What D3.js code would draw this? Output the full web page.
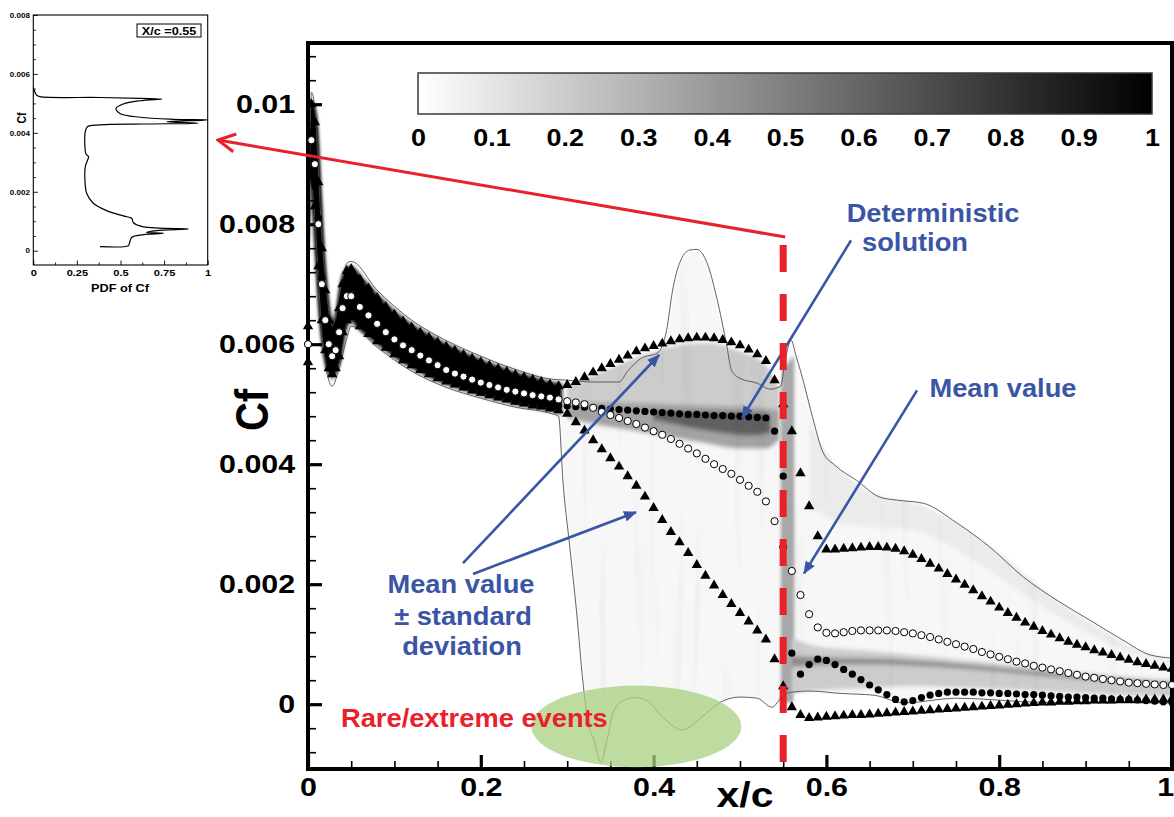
<!DOCTYPE html>
<html>
<head>
<meta charset="utf-8">
<script src="https://cdn.jsdelivr.net/npm/d3@7"></script>
<style>
  html, body { margin: 0; padding: 0; background: #ffffff; }
  svg { display: block; }
</style>
</head>
<body>
<svg id="chart" width="1174" height="817"></svg>
<script>
// ------------------------------------------------------------------
// Skin-friction coefficient Cf along the chord x/c
// ------------------------------------------------------------------
const xStations = [
  0, 0.004, 0.008, 0.012, 0.016, 0.020, 0.024, 0.028, 0.032, 0.036, 0.040, 0.045,
  0.05, 0.06, 0.07, 0.08, 0.09, 0.10, 0.11, 0.12, 0.13, 0.14,
  0.15, 0.16, 0.17, 0.18, 0.19, 0.20, 0.21, 0.22, 0.23, 0.24,
  0.25, 0.26, 0.27, 0.28, 0.29, 0.30, 0.31,
  0.32, 0.33, 0.34, 0.35, 0.36, 0.37, 0.38, 0.39, 0.40,
  0.41, 0.42, 0.43, 0.44, 0.45, 0.46, 0.47, 0.48, 0.49, 0.50,
  0.51, 0.52, 0.53, 0.54, 0.55,
  0.56, 0.57, 0.58, 0.59, 0.60,
  0.61, 0.62, 0.63, 0.64, 0.65, 0.66, 0.67, 0.68, 0.69, 0.70,
  0.71, 0.72, 0.73, 0.74, 0.75, 0.76, 0.77, 0.78, 0.79, 0.80,
  0.81, 0.82, 0.83, 0.84, 0.85, 0.86, 0.87, 0.88, 0.89, 0.90,
  0.91, 0.92, 0.93, 0.94, 0.95, 0.96, 0.97, 0.98, 0.99, 1.00
];

// mean value of Cf (open circles)
const cfMean = [
  0.0060, 0.0094, 0.0090, 0.0080, 0.0070, 0.0064, 0.0060, 0.0058, 0.0059, 0.0062, 0.0066, 0.0068,
  0.00680, 0.00662, 0.00648, 0.00634, 0.00620, 0.00608, 0.00598, 0.00590, 0.00581, 0.00573,
  0.00565, 0.00557, 0.00551, 0.00546, 0.00541, 0.00536, 0.00532, 0.00528, 0.00524, 0.00521,
  0.00518, 0.00515, 0.00513, 0.00511, 0.00508, 0.00505, 0.00503,
  0.00500, 0.00494, 0.00487, 0.00482, 0.00477, 0.00472, 0.00467, 0.00461, 0.00455,
  0.00449, 0.00442, 0.00434, 0.00426, 0.00418, 0.00409, 0.00400, 0.00392, 0.00384, 0.00374,
  0.00364, 0.00354, 0.00338, 0.00305, 0.00262,
  0.00222, 0.00182, 0.00150, 0.00128, 0.00119,
  0.00118, 0.00120, 0.00122, 0.00123, 0.00123, 0.00123, 0.00123, 0.00122, 0.00120, 0.00118,
  0.00115, 0.00112, 0.00108, 0.00104, 0.00100, 0.00096, 0.00092, 0.00087, 0.00083, 0.00079,
  0.00075, 0.00071, 0.00068, 0.00064, 0.00061, 0.00058, 0.00055, 0.00052, 0.00049, 0.00046,
  0.00044, 0.00042, 0.00040, 0.00038, 0.00036, 0.00035, 0.00034, 0.00033, 0.00032, 0.00032
];

// mean + standard deviation (upper triangles)
const cfUpper = [
  0.0063, 0.0100, 0.0097, 0.0087, 0.0076, 0.0069, 0.0064, 0.0061, 0.0062, 0.0066, 0.0070, 0.00722,
  0.00725, 0.00708, 0.00693, 0.00677, 0.00662, 0.00649, 0.00638, 0.00628, 0.00619, 0.00611,
  0.00603, 0.00596, 0.00589, 0.00582, 0.00576, 0.00570, 0.00564, 0.00559, 0.00554, 0.00549,
  0.00545, 0.00541, 0.00537, 0.00533, 0.00530, 0.00532, 0.00537,
  0.00545, 0.00553, 0.00560, 0.00567, 0.00574, 0.00581, 0.00588, 0.00593, 0.00597,
  0.00601, 0.00605, 0.00608, 0.00610, 0.00611, 0.00611, 0.00610, 0.00607, 0.00603, 0.00598,
  0.00591, 0.00583, 0.00572, 0.00540, 0.00500,
  0.00455, 0.00385, 0.00330, 0.00280, 0.00258,
  0.00258, 0.00259, 0.00260, 0.00261, 0.00262, 0.00262, 0.00261, 0.00259, 0.00255, 0.00249,
  0.00242, 0.00234, 0.00226, 0.00217, 0.00208, 0.00199, 0.00190, 0.00180, 0.00171, 0.00161,
  0.00152, 0.00144, 0.00136, 0.00129, 0.00122, 0.00116, 0.00110, 0.00104, 0.00099, 0.00095,
  0.00090, 0.00086, 0.00082, 0.00078, 0.00074, 0.00070, 0.00067, 0.00064, 0.00061, 0.00059
];

// mean - standard deviation (lower triangles)
const cfLower = [
  0.0057, 0.0088, 0.0083, 0.0073, 0.0064, 0.0059, 0.0056, 0.0055, 0.0056, 0.0058, 0.0062, 0.0064,
  0.00645, 0.00630, 0.00617, 0.00605, 0.00594, 0.00583, 0.00573, 0.00565, 0.00557, 0.00550,
  0.00543, 0.00538, 0.00533, 0.00528, 0.00523, 0.00519, 0.00515, 0.00511, 0.00508, 0.00504,
  0.00501, 0.00498, 0.00496, 0.00493, 0.00490, 0.00484, 0.00470,
  0.00456, 0.00440, 0.00425, 0.00410, 0.00396, 0.00380, 0.00364, 0.00346, 0.00327,
  0.00307, 0.00287, 0.00270, 0.00252, 0.00232, 0.00214, 0.00198, 0.00182, 0.00167, 0.00152,
  0.00138, 0.00123, 0.00108, 0.00075, 0.00030,
  -0.00005, -0.00018, -0.00023, -0.00022, -0.00021,
  -0.00020, -0.00019, -0.00018, -0.00018, -0.00017, -0.00016, -0.00015, -0.00014, -0.00013, -0.00012,
  -0.00011, -0.00010, -0.00009, -0.00008, -0.00007, -0.00006, -0.00005, -0.00004, -0.00003, -0.00002,
  -0.00001, 0.00000, 0.00001, 0.00002, 0.00003, 0.00003, 0.00004, 0.00004, 0.00005, 0.00005,
  0.00006, 0.00006, 0.00006, 0.00007, 0.00007, 0.00007, 0.00008, 0.00008, 0.00008, 0.00009
];

// deterministic solution (filled circles)
const cfDeterministic = [
  0.0060, 0.0095, 0.0091, 0.0081, 0.0071, 0.0064, 0.0060, 0.0058, 0.0059, 0.0062, 0.0066, 0.0068,
  0.00672, 0.00652, 0.00637, 0.00622, 0.00609, 0.00597, 0.00587, 0.00578, 0.00569, 0.00562,
  0.00555, 0.00549, 0.00543, 0.00538, 0.00533, 0.00528, 0.00524, 0.00520, 0.00516, 0.00513,
  0.00509, 0.00506, 0.00503, 0.00500, 0.00498, 0.00497, 0.00496,
  0.00495, 0.00494, 0.00493, 0.00492, 0.00491, 0.00490, 0.00489, 0.00488, 0.00487,
  0.00486, 0.00485, 0.00484, 0.00483, 0.00483, 0.00482, 0.00481, 0.00481, 0.00480, 0.00480,
  0.00479, 0.00478, 0.00477, 0.00455, 0.00380,
  0.00085, 0.00050, 0.00066, 0.00075, 0.00073,
  0.00066, 0.00058, 0.00050, 0.00041, 0.00032, 0.00024, 0.00016, 0.00008, 0.00004, 0.00006,
  0.00011, 0.00015, 0.00018, 0.00020, 0.00020, 0.00020, 0.00020, 0.00019, 0.00019, 0.00018,
  0.00018, 0.00017, 0.00016, 0.00016, 0.00015, 0.00014, 0.00013, 0.00012, 0.00012, 0.00011,
  0.00010, 0.00010, 0.00009, 0.00008, 0.00008, 0.00007, 0.00006, 0.00005, 0.00004, 0.00003
];

// extreme values over all samples (thin envelope lines)
const envMaxX = [0, 0.004, 0.008, 0.012, 0.016, 0.020, 0.028, 0.036, 0.045, 0.05, 0.08, 0.12, 0.16, 0.20,
  0.24, 0.28, 0.30, 0.33, 0.36, 0.37, 0.385, 0.405, 0.415, 0.422, 0.43, 0.442, 0.45, 0.462, 0.473,
  0.485, 0.49, 0.50, 0.52, 0.535, 0.547, 0.552, 0.559, 0.565, 0.573, 0.584, 0.596, 0.61, 0.635,
  0.662, 0.682, 0.712, 0.751, 0.789, 0.828, 0.867, 0.905, 0.943, 0.975, 1.0];
const envMaxCf = [0.0064, 0.0102, 0.0099, 0.0089, 0.0078, 0.0071, 0.0063, 0.0068, 0.00735, 0.00738,
  0.00690, 0.00640, 0.00606, 0.00580, 0.00558, 0.00542, 0.00540, 0.00537, 0.00537, 0.00555, 0.00576,
  0.00586, 0.00623, 0.00690, 0.00735, 0.00757, 0.00758, 0.00735, 0.00678, 0.00595, 0.00557, 0.00543,
  0.00535, 0.00525, 0.00530, 0.00570, 0.00607, 0.00580, 0.00540, 0.00478, 0.00420, 0.00398, 0.00373,
  0.00345, 0.00340, 0.00335, 0.00302, 0.00262, 0.00212, 0.00173, 0.00140, 0.00107, 0.00082, 0.00077];

const envMinX = [0, 0.004, 0.008, 0.012, 0.016, 0.020, 0.028, 0.036, 0.045, 0.05, 0.08, 0.12, 0.16, 0.20,
  0.24, 0.28, 0.29, 0.295, 0.303, 0.311, 0.318, 0.324, 0.331, 0.339, 0.346, 0.353, 0.364, 0.378,
  0.392, 0.411, 0.433, 0.455, 0.477, 0.50, 0.52, 0.537, 0.55, 0.56, 0.58, 0.616, 0.655, 0.69, 0.75,
  0.85, 1.0];
const envMinCf = [0.0056, 0.0086, 0.0081, 0.0071, 0.0062, 0.0057, 0.0053, 0.0056, 0.0061, 0.0063,
  0.00595, 0.00555, 0.00528, 0.00510, 0.00495, 0.00485, 0.00480, 0.00373, 0.00262, 0.00152, 0.00040,
  -0.00030, -0.00060, -0.00097, -0.00060, -0.00015, 0.00005, 0.00011, 0.00006, -0.00022, -0.00043,
  -0.00022, 0.00003, 0.00012, 0.00010, -0.00005, 0.00015, 0.00020, 0.00022, 0.00018, 0.00015,
  0.00002, 0.00010, 0.00003, 0.00002];

// probability density of Cf, summarised as shaded bands (level = PDF value)
const coreBandStart = 0.004;
const coreBandEnd = 0.29;           // samples collapse onto one narrow band upstream
const coreBandLevel = 1.0;
const baseLevel = 0.03;             // faint density filling the whole sample envelope
const detBandX = [0.30, 0.34, 0.38, 0.42, 0.46, 0.50, 0.53, 0.545];
const detBandLo = [0.00476, 0.00464, 0.00455, 0.00445, 0.00435, 0.00426, 0.00426, 0.00440];
const detBandHi = [0.00503, 0.00503, 0.00502, 0.00500, 0.00498, 0.00496, 0.00493, 0.00490];
const detBandLevel = 0.36;
const detCoreX = [0.40, 0.44, 0.48, 0.51, 0.535];
const detCoreLo = [0.00474, 0.00462, 0.00452, 0.00448, 0.00452];
const detCoreHi = [0.00490, 0.00488, 0.00487, 0.00486, 0.00484];
const detCoreLevel = 0.62;
const upShadeX = [0.30, 0.34, 0.38, 0.42, 0.46, 0.50, 0.53, 0.545];
const upShadeLo = [0.00495, 0.00493, 0.00489, 0.00485, 0.00482, 0.00480, 0.00477, 0.00460];
const upShadeHi = [0.00532, 0.00556, 0.00580, 0.00596, 0.00602, 0.00590, 0.00568, 0.00530];
const upShadeLevel = 0.2;
const shockX = [0.547, 0.563];
const shockLo = [0.0000, 0.0000];
const shockHi = [0.0056, 0.0058];
const shockLevel = 0.34;
const wakeX = [0.56, 0.58, 0.62, 0.66, 0.70, 0.75, 0.80, 0.85, 0.90, 0.95, 1.00];
const wakeLo = [0.00015, 0.00020, 0.00025, 0.00028, 0.00030, 0.00028, 0.00025, 0.00022, 0.00018, 0.00015, 0.00012];
const wakeHi = [0.00110, 0.00100, 0.00092, 0.00088, 0.00082, 0.00075, 0.00068, 0.00060, 0.00052, 0.00045, 0.00040];
const wakeLevel = 0.2;
const wakeCoreLo = [0.00062, 0.00064, 0.00066, 0.00066, 0.00064, 0.00060, 0.00054, 0.00047, 0.00041, 0.00035, 0.00031];
const wakeCoreHi = [0.00080, 0.00079, 0.00077, 0.00076, 0.00073, 0.00068, 0.00061, 0.00054, 0.00047, 0.00041, 0.00036];
const wakeCoreLevel = 0.45;
const edgeX = [0.58, 0.62, 0.66, 0.70, 0.75, 0.80, 0.85, 0.90, 0.95, 1.00];
const edgeLo = [0.00330, 0.00300, 0.00295, 0.00290, 0.00258, 0.00212, 0.00163, 0.00120, 0.00087, 0.00068];
const edgeHi = [0.00470, 0.00385, 0.00350, 0.00338, 0.00305, 0.00255, 0.00195, 0.00142, 0.00100, 0.00077];
const edgeLevel = 0.08;

// axis ticks
const yMajorTicks = [0, 0.002, 0.004, 0.006, 0.008, 0.01];
const xMajorTicks = [0, 0.2, 0.4, 0.6, 0.8, 1];
const colorbarTicks = [0, 0.1, 0.2, 0.3, 0.4, 0.5, 0.6, 0.7, 0.8, 0.9, 1];

// PDF of Cf at the station x/c = 0.55 (inset)
const pdfStation = 0.55;
const insetPdf = [0, 0.019, 0.038, 0.382, 0.612, 0.738, 0.612, 0.516, 0.474, 0.497, 0.612, 0.803,
  1.0, 0.765, 0.946, 0.631, 0.382, 0.31, 0.298, 0.296, 0.302, 0.317, 0.31, 0.298, 0.296, 0.306,
  0.344, 0.421, 0.516, 0.564, 0.574, 0.631, 0.889, 0.707, 0.65, 0.746, 0.612, 0.564, 0.551, 0.545, 0.382];
const insetCf = [0.00554, 0.00528, 0.00523, 0.00520, 0.00517, 0.00515, 0.00509, 0.00498, 0.00483,
  0.00466, 0.00453, 0.00446, 0.00444, 0.00438, 0.00433, 0.00430, 0.00427, 0.00421, 0.00404, 0.00353,
  0.00328, 0.00319, 0.00306, 0.00285, 0.00240, 0.00195, 0.00161, 0.00136, 0.00118, 0.00110, 0.00095,
  0.00081, 0.00074, 0.00068, 0.00062, 0.00059, 0.00053, 0.00045, 0.00025, 0.00017, 0.00014];
const insetYTicks = [0, 0.002, 0.004, 0.006, 0.008];
const insetXTicks = [0, 0.25, 0.5, 0.75, 1];

// ------------------------------------------------------------------
const FONT = '"Liberation Sans", Arial, Helvetica, sans-serif';
const BLUE = "#3a55a5";
const RED = "#e8212a";
const svg = d3.select("#chart");
const defs = svg.append("defs");

const x = d3.scaleLinear().domain([0, 1]).range([308, 1172]);
const y = d3.scaleLinear().domain([-0.00108, 0.01102]).range([769, 43]);
const shade = d3.scaleLinear().domain([0, 1]).range(["#ffffff", "#000000"]);

const zip = (xs, ys) => xs.map((v, i) => [v, ys[i]]).filter(d => d[1] !== undefined);
const meanPts = zip(xStations, cfMean);
const upperPts = zip(xStations, cfUpper);
const lowerPts = zip(xStations, cfLower);
const detPts = zip(xStations, cfDeterministic);

// plot clip
defs.append("clipPath").attr("id", "plotClip")
  .append("rect").attr("x", x(0)).attr("y", y.range()[1])
  .attr("width", x(1) - x(0)).attr("height", y.range()[0] - y.range()[1]);

// streaky, slightly soft rendering of the density field
const f = defs.append("filter").attr("id", "pdfTexture")
  .attr("filterUnits", "userSpaceOnUse")
  .attr("x", 300).attr("y", 40).attr("width", 880).attr("height", 740);
f.append("feGaussianBlur").attr("in", "SourceGraphic").attr("stdDeviation", "1.4 2.2").attr("result", "soft");
f.append("feTurbulence").attr("type", "fractalNoise").attr("baseFrequency", "0.09 0.004")
  .attr("numOctaves", 2).attr("seed", 7).attr("result", "noise");
f.append("feColorMatrix").attr("in", "noise").attr("type", "matrix")
  .attr("values", "0.26 0 0 0 0.89  0.26 0 0 0 0.89  0.26 0 0 0 0.89  0 0 0 0 1")
  .attr("result", "grain");
f.append("feBlend").attr("in", "soft").attr("in2", "grain").attr("mode", "multiply").attr("result", "mix");
f.append("feComposite").attr("in", "mix").attr("in2", "soft").attr("operator", "in");

// ---------------- density field ----------------
const heat = svg.append("g").attr("clip-path", "url(#plotClip)")
  .append("g").attr("filter", "url(#pdfTexture)");

const envPoly = zip(envMaxX, envMaxCf).map(d => [x(d[0]), y(d[1])])
  .concat(zip(envMinX, envMinCf).reverse().map(d => [x(d[0]), y(d[1])]));
heat.append("path").attr("d", d3.line().curve(d3.curveLinearClosed)(envPoly))
  .attr("fill", shade(baseLevel));

function band(xs, lo, hi, level, edge = 0) {
  const rows = xs.map((v, i) => ({ x: v, lo: lo[i], hi: hi[i] }));
  const p = heat.append("path")
    .attr("d", d3.area().curve(d3.curveMonotoneX)
      .x(d => x(d.x)).y0(d => y(d.lo)).y1(d => y(d.hi))(rows))
    .attr("fill", shade(level));
  if (edge) p.attr("stroke", shade(level)).attr("stroke-width", edge).attr("stroke-linejoin", "round");
}
band(edgeX, edgeLo, edgeHi, edgeLevel);
band(upShadeX, upShadeLo, upShadeHi, upShadeLevel);
band(shockX, shockLo, shockHi, shockLevel);
band(wakeX, wakeLo, wakeHi, wakeLevel);
band(wakeX, wakeCoreLo, wakeCoreHi, wakeCoreLevel);
band(detBandX, detBandLo, detBandHi, detBandLevel);
band(detCoreX, detCoreLo, detCoreHi, detCoreLevel);
// upstream: all samples sit inside the mean +/- std band, drawn with the marker half-width as edge
const coreIdx = xStations.map((v, i) => i)
  .filter(i => xStations[i] >= coreBandStart && xStations[i] <= coreBandEnd);
band(coreIdx.map(i => xStations[i]), coreIdx.map(i => cfLower[i]), coreIdx.map(i => cfUpper[i]), coreBandLevel, 9);

// envelope lines
const envLine = d3.line().curve(d3.curveMonotoneX).x(d => x(d[0])).y(d => y(d[1]));
const envG = svg.append("g").attr("clip-path", "url(#plotClip)");
[zip(envMaxX, envMaxCf), zip(envMinX, envMinCf)].forEach(pts => {
  envG.append("path").attr("d", envLine(pts)).attr("fill", "none")
    .attr("stroke", "#505050").attr("stroke-width", 0.9);
});

// ---------------- axes ----------------
const fmtCf = d => d === 0 ? "0" : d3.format(".3~f")(d);
const yMinor = d3.range(-0.0008, 0.01081, 0.0004).filter(v => !yMajorTicks.some(t => Math.abs(t - v) < 1e-7));
const xMinor = d3.range(0, 1.0001, 0.05).filter(v => !xMajorTicks.some(t => Math.abs(t - v) < 1e-7));

function styleAxis(g, size, sx) {
  g.attr("font-family", FONT);
  g.select(".domain").remove();
  g.selectAll(".tick text").attr("font-size", size).attr("font-weight", "bold")
    .attr("fill", "#000").attr("transform", `scale(${sx},1)`);
}

const gyMinor = svg.append("g").attr("transform", `translate(${x(0)},0)`)
  .call(d3.axisLeft(y).tickValues(yMinor).tickSize(-8).tickFormat(""));
gyMinor.select(".domain").remove();
gyMinor.selectAll("line").attr("stroke", "#000").attr("stroke-width", 1.6);

const gy = svg.append("g").attr("transform", `translate(${x(0)},0)`)
  .call(d3.axisLeft(y).tickValues(yMajorTicks).tickSize(-14).tickPadding(11).tickFormat(fmtCf));
styleAxis(gy, 26, 1.17);
gy.selectAll(".tick line").attr("stroke", "#000").attr("stroke-width", 3.2);

const gxMinor = svg.append("g").attr("transform", `translate(0,${y.range()[0]})`)
  .call(d3.axisBottom(x).tickValues(xMinor).tickSize(-8).tickFormat(""));
gxMinor.select(".domain").remove();
gxMinor.selectAll("line").attr("stroke", "#000").attr("stroke-width", 1.6);

const gx = svg.append("g").attr("transform", `translate(0,${y.range()[0]})`)
  .call(d3.axisBottom(x).tickValues(xMajorTicks).tickSize(-14).tickPadding(9).tickFormat(d3.format("~g")));
styleAxis(gx, 26, 1.17);
gx.selectAll(".tick line").attr("stroke", "#000").attr("stroke-width", 3.2);
// the last label sits against the right edge of the page
gx.selectAll(".tick text").filter(d => d === 1).attr("text-anchor", "end").attr("x", 1.5);

// frame
const frame = svg.append("g").attr("stroke", "#000").attr("stroke-width", 4).attr("stroke-linecap", "square");
frame.append("line").attr("x1", x(0)).attr("x2", x(1)).attr("y1", y.range()[1]).attr("y2", y.range()[1]);
frame.append("line").attr("x1", x(1)).attr("x2", x(1)).attr("y1", y.range()[1]).attr("y2", y.range()[0]);
frame.append("line").attr("x1", x(0)).attr("x2", x(0)).attr("y1", y.range()[1]).attr("y2", y.range()[0]);
frame.append("line").attr("x1", x(0)).attr("x2", x(1)).attr("y1", y.range()[0]).attr("y2", y.range()[0]);

// axis titles
function label(g, str, px, py, o = {}) {
  return g.append("text")
    .attr("transform", o.rotate
      ? `translate(${px},${py}) rotate(-90) scale(1,${o.sx || 1})`
      : `translate(${px},${py}) scale(${o.sx || 1},1)`)
    .attr("font-family", FONT).attr("font-weight", o.weight || "bold")
    .attr("font-size", o.size || 20).attr("fill", o.fill || "#000")
    .attr("text-anchor", o.anchor || "middle")
    .text(str);
}
label(svg, "x/c", 745, 807, { size: 35, sx: 1.17 });
label(svg, "Cf", 268, 410, { size: 40, sx: 1.17, rotate: true });

// ---------------- series markers ----------------
const marks = svg.append("g");
const tri = d3.symbol().type(d3.symbolTriangle).size(46);
[upperPts, lowerPts].forEach(pts => {
  marks.append("g").selectAll("path").data(pts).join("path")
    .attr("d", tri).attr("transform", d => `translate(${x(d[0])},${y(d[1])})`)
    .attr("fill", "#000");
});
marks.append("g").selectAll("circle").data(detPts).join("circle")
  .attr("cx", d => x(d[0])).attr("cy", d => y(d[1])).attr("r", 3.6).attr("fill", "#000");
marks.append("g").selectAll("circle").data(meanPts).join("circle")
  .attr("cx", d => x(d[0])).attr("cy", d => y(d[1])).attr("r", 3.6)
  .attr("fill", "#ffffff").attr("stroke", "#000").attr("stroke-width", 1);

// ---------------- annotations ----------------
const ann = svg.append("g");
// rare / extreme events
ann.append("ellipse").attr("cx", x(0.38)).attr("cy", y(-0.00037))
  .attr("rx", x(0.1215) - x(0)).attr("ry", y(0) - y(0.00068))
  .attr("fill", "#a8d080").attr("fill-opacity", 0.75);
label(ann, "Rare/extreme events", 341, 727, { size: 25.5, sx: 1.07, fill: RED, anchor: "start" });

// blue pointers
defs.append("marker").attr("id", "blueHead").attr("viewBox", "0 -5 12 10")
  .attr("refX", 11).attr("refY", 0).attr("markerWidth", 13).attr("markerHeight", 11)
  .attr("markerUnits", "userSpaceOnUse").attr("orient", "auto")
  .append("path").attr("d", "M0,-5L12,0L0,5Z").attr("fill", BLUE);
const pointers = [
  [[0.6285, 0.00773], [0.5023, 0.00477]],
  [[0.7049, 0.00523], [0.5741, 0.00218]],
  [[0.1794, 0.00235], [0.4063, 0.00582]],
  [[0.1910, 0.00217], [0.3796, 0.00320]]
];
pointers.forEach(([a, b]) => {
  ann.append("line").attr("x1", x(a[0])).attr("y1", y(a[1])).attr("x2", x(b[0])).attr("y2", y(b[1]))
    .attr("stroke", BLUE).attr("stroke-width", 2.6).attr("marker-end", "url(#blueHead)");
});
label(ann, "Deterministic", 933, 222, { size: 25.5, sx: 1.07, fill: BLUE });
label(ann, "solution", 915, 251, { size: 25.5, sx: 1.07, fill: BLUE });
label(ann, "Mean value", 1003, 397, { size: 25.5, sx: 1.07, fill: BLUE });
label(ann, "Mean value", 461, 593, { size: 25.5, sx: 1.07, fill: BLUE });
label(ann, "\u00b1 standard", 463, 625, { size: 25.5, sx: 1.07, fill: BLUE });
label(ann, "deviation", 462, 655, { size: 25.5, sx: 1.07, fill: BLUE });

// station line x/c = 0.55 and link to the inset
ann.append("line").attr("x1", x(pdfStation)).attr("x2", x(pdfStation))
  .attr("y1", 245).attr("y2", y.range()[0] - 2)
  .attr("stroke", RED).attr("stroke-width", 7).attr("stroke-dasharray", "27,22");
defs.append("marker").attr("id", "redHead").attr("viewBox", "-20 -11 22 22")
  .attr("refX", 0).attr("refY", 0).attr("markerWidth", 22).attr("markerHeight", 22)
  .attr("markerUnits", "userSpaceOnUse").attr("orient", "auto")
  .append("path").attr("d", "M-17,-9L0,0L-17,9").attr("fill", "none")
  .attr("stroke", RED).attr("stroke-width", 3);
ann.append("line").attr("x1", x(pdfStation) + 2).attr("y1", 237).attr("x2", 218).attr("y2", 140)
  .attr("stroke", RED).attr("stroke-width", 3).attr("marker-end", "url(#redHead)");

// ---------------- colour bar ----------------
const cb = d3.scaleLinear().domain([0, 1]).range([418, 1152]);
const grad = defs.append("linearGradient").attr("id", "cbGrad");
grad.append("stop").attr("offset", "0%").attr("stop-color", shade(0));
grad.append("stop").attr("offset", "100%").attr("stop-color", shade(1));
svg.append("rect").attr("x", cb(0)).attr("y", 73).attr("width", cb(1) - cb(0)).attr("height", 41)
  .attr("fill", "url(#cbGrad)").attr("stroke", "#3a3a3a").attr("stroke-width", 1.5);
const gcb = svg.append("g").attr("transform", "translate(0,114)")
  .call(d3.axisBottom(cb).tickValues(colorbarTicks).tickSize(0).tickPadding(15).tickFormat(d3.format("~g")));
styleAxis(gcb, 24.5, 1.1);

// ---------------- inset: PDF of Cf at the station ----------------
const ix = d3.scaleLinear().domain([0, 1]).range([33.3, 207.7]);
const iy = d3.scaleLinear().domain([-0.000485, 0.008]).range([265, 15]);
const inset = svg.append("g");
inset.append("rect").attr("x", ix(0)).attr("y", iy(0.008)).attr("width", ix(1) - ix(0))
  .attr("height", iy.range()[0] - iy(0.008)).attr("fill", "#fff").attr("stroke", "#000").attr("stroke-width", 1.1);

const iyMinor = d3.range(0, 0.00801, 0.0005).filter(v => !insetYTicks.some(t => Math.abs(t - v) < 1e-8));
const ixMinor = [0.125, 0.375, 0.625, 0.875];
const iyMin = inset.append("g").attr("transform", `translate(${ix(0)},0)`)
  .call(d3.axisLeft(iy).tickValues(iyMinor).tickSize(-2.5).tickFormat(""));
iyMin.select(".domain").remove();
const ixMin = inset.append("g").attr("transform", `translate(0,${iy.range()[0]})`)
  .call(d3.axisBottom(ix).tickValues(ixMinor).tickSize(-2.5).tickFormat(""));
ixMin.select(".domain").remove();
const iya = inset.append("g").attr("transform", `translate(${ix(0)},0)`)
  .call(d3.axisLeft(iy).tickValues(insetYTicks).tickSize(-4.5).tickPadding(3).tickFormat(fmtCf));
styleAxis(iya, 7, 1.15);
const ixa = inset.append("g").attr("transform", `translate(0,${iy.range()[0]})`)
  .call(d3.axisBottom(ix).tickValues(insetXTicks).tickSize(-4.5).tickPadding(4).tickFormat(d3.format("~g")));
styleAxis(ixa, 9.3, 1.19);
inset.selectAll(".tick line").attr("stroke", "#000").attr("stroke-width", 0.9);

inset.append("path")
  .attr("d", d3.line().curve(d3.curveCatmullRom.alpha(0.5)).x(d => ix(d[0])).y(d => iy(d[1]))(zip(insetPdf, insetCf)))
  .attr("fill", "none").attr("stroke", "#000").attr("stroke-width", 1.2);

inset.append("rect").attr("x", 137).attr("y", 24).attr("width", 64).attr("height", 13)
  .attr("fill", "#fff").attr("stroke", "#000").attr("stroke-width", 1);
label(inset, `X/c =${pdfStation}`, 169, 34.5, { size: 11, sx: 1.15 });
label(inset, "PDF of Cf", 120, 292, { size: 10.7, sx: 1.19 });
label(inset, "Cf", 26, 118, { size: 10.5, sx: 1.19, rotate: true });
</script>
</body>
</html>
